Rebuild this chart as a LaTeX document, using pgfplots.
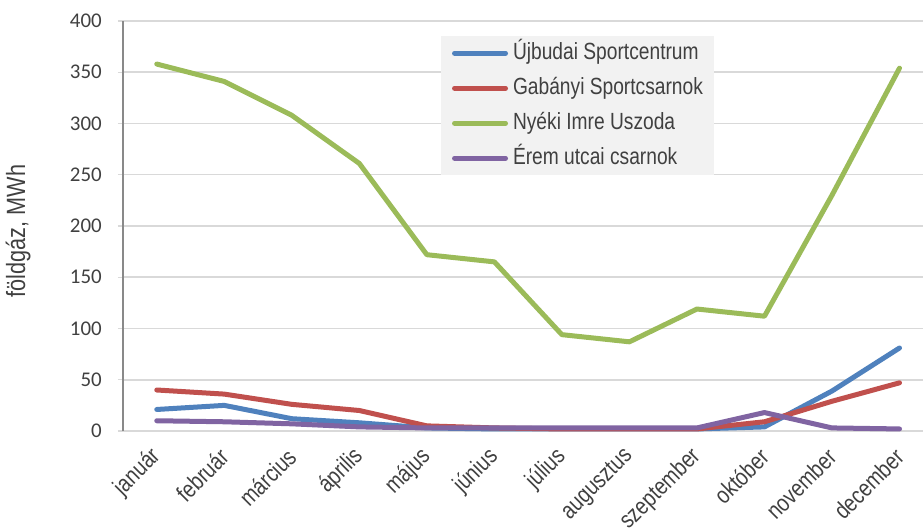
\documentclass[border=0pt]{standalone}
\usepackage{pgfplots}
\pgfplotsset{compat=1.18}
\usepackage{fontspec}
\setmainfont{Liberation Sans}
\newfontfamily\narrowfont{Liberation Sans}[FakeStretch=0.82]
\newfontfamily\calfont{Carlito}
\usetikzlibrary{calc}
\definecolor{cblue}{HTML}{4F81BD}
\definecolor{cred}{HTML}{C0504D}
\definecolor{cgreen}{HTML}{9BBB59}
\definecolor{cpurple}{HTML}{8064A2}
\definecolor{gridgray}{HTML}{D9D9D9}
\definecolor{axisgray}{HTML}{898989}
\definecolor{leggray}{HTML}{F2F2F2}
\definecolor{textgray}{HTML}{404040}
\begin{document}
\begin{tikzpicture}
\begin{axis}[
  name=ax,
  scale only axis,
  width=800bp, height=410bp,
  xmin=-0.5, xmax=11.348,
  ymin=0, ymax=400,
  ytick={0,50,...,400},
  xtick={0,...,11},
  xticklabels={január,február,március,április,május,június,július,augusztus,szeptember,október,november,december},
  /pgf/number format/assume math mode=true,
  axis x line*=bottom,
  axis y line*=left,
  x axis line style={gridgray, line width=1.5bp, -},
  y axis line style={axisgray, line width=1.2bp, -},
  ymajorgrids,
  grid style={gridgray, line width=1.5bp},
  tick align=outside,
  major tick length=5bp,
  ytick style={gridgray, line width=1.2bp},
  xtick style={draw=none},
  yticklabel style={font=\calfont\fontsize{21}{21}\selectfont, text=textgray, anchor=east, inner sep=0pt, xshift=-16bp},
  xticklabel style={font=\narrowfont\fontsize{24}{24}\selectfont, text=textgray, yshift=-17bp, rotate=45, anchor=east, inner sep=0pt},
  ylabel={földgáz, MWh},
  ylabel style={font=\narrowfont\fontsize{26.5}{26.5}\selectfont, text=textgray, at={(rel axis cs:-0.131,0.488)}, anchor=center},
  clip=false,
  legend style={at={(axis cs:4.207,385.4)}, anchor=north west, fill=leggray, draw=none,
    font=\narrowfont\fontsize{23.5}{23.5}\selectfont, text=textgray,
    inner xsep=11bp, inner ysep=6bp, row sep=13bp, column sep=5bp,
    nodes={inner sep=0pt, text height=17bp, text depth=5bp}},
  legend cell align=left,
  legend image code/.code={\draw[#1, line width=5bp, line cap=round] (0bp,0bp) -- (51bp,0bp);},
  every axis plot/.append style={line width=5bp, line cap=round, line join=round},
]
\addplot[cblue] coordinates {(0,21) (1,25) (2,12) (3,8) (4,3) (5,2) (6,2) (7,2) (8,2) (9,4) (10,39) (11,81)};
\addlegendentry{Újbudai Sportcentrum}
\addplot[cred] coordinates {(0,40) (1,36) (2,26) (3,20) (4,5) (5,3) (6,2) (7,2) (8,2) (9,9) (10,29) (11,47)};
\addlegendentry{Gabányi Sportcsarnok}
\addplot[cgreen] coordinates {(0,358) (1,341) (2,308) (3,261) (4,172) (5,165) (6,94) (7,87) (8,119) (9,112) (10,230) (11,354)};
\addlegendentry{Nyéki Imre Uszoda}
\addplot[cpurple] coordinates {(0,10) (1,9) (2,7) (3,4) (4,3) (5,3) (6,3) (7,3) (8,3) (9,18) (10,3) (11,2)};
\addlegendentry{Érem utcai csarnok}
\end{axis}
\pgfresetboundingbox
\path ($(ax.south west)+(-123bp,-97bp)$) rectangle ($(ax.north east)+(0bp,21bp)$);
\end{tikzpicture}
\end{document}
